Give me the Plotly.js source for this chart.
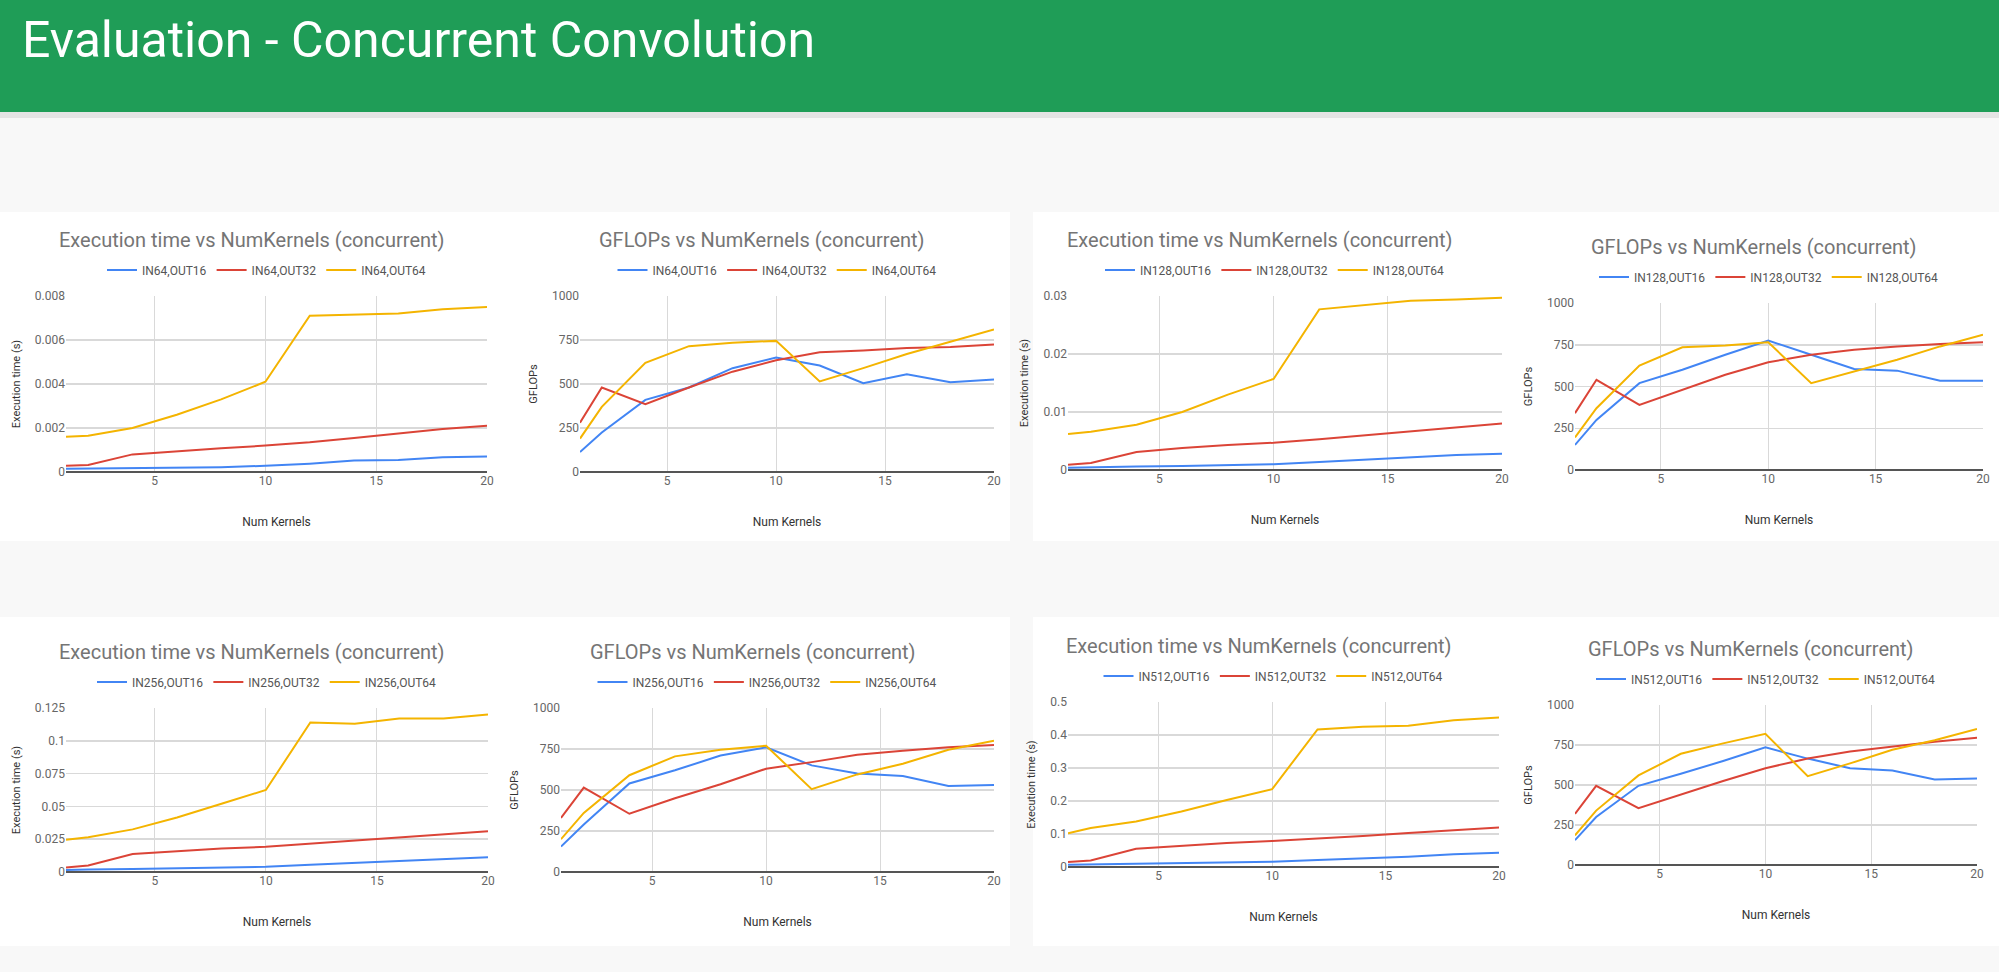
<!DOCTYPE html>
<html>
<head>
<meta charset="utf-8">
<script src="https://cdn.plot.ly/plotly-3.0.1.min.js"></script>
<style>
  html, body { margin: 0; padding: 0; background: #f8f8f8; }
  #chart { width: 1999px; height: 972px; }
</style>
</head>
<body>
<div id="chart"></div>
<script>
const W = 1999, H = 972;

// Num kernels
const numKernels = [1, 2, 4, 6, 8, 10, 12, 14, 16, 18, 20];
const inSizes = ["IN64", "IN128", "IN256", "IN512"];
const outSizes = ["OUT16", "OUT32", "OUT64"];

// execution time (s)
const timeIn64 = [
  [0.00015, 0.00016, 0.00017, 0.0002, 0.00022, 0.00028, 0.00038, 0.00052, 0.00055, 0.00067, 0.0007],
  [0.00028, 0.00032, 0.0008, 0.00095, 0.00108, 0.0012, 0.00135, 0.00155, 0.00175, 0.00195, 0.0021],
  [0.0016, 0.00165, 0.002, 0.0026, 0.0033, 0.0041, 0.0071, 0.00715, 0.0072, 0.0074, 0.0075]
];
const timeIn128 = [
  [0.0004, 0.0005, 0.0006, 0.0007, 0.0009, 0.001, 0.0014, 0.0018, 0.0021, 0.0026, 0.0028],
  [0.0009, 0.0012, 0.0031, 0.0038, 0.0043, 0.0047, 0.0053, 0.006, 0.0067, 0.0073, 0.008],
  [0.0062, 0.0066, 0.0078, 0.01, 0.013, 0.0157, 0.0277, 0.0285, 0.0292, 0.0294, 0.0297]
];
const timeIn256 = [
  [0.0015, 0.002, 0.0022, 0.0028, 0.0033, 0.004, 0.0055, 0.007, 0.0082, 0.0102, 0.0112],
  [0.0035, 0.005, 0.0137, 0.016, 0.018, 0.0192, 0.0215, 0.0237, 0.0262, 0.0285, 0.031],
  [0.0245, 0.0265, 0.0325, 0.0415, 0.052, 0.0625, 0.114, 0.113, 0.117, 0.117, 0.12]
];
const timeIn512 = [
  [0.007, 0.008, 0.009, 0.011, 0.014, 0.016, 0.021, 0.026, 0.031, 0.039, 0.043],
  [0.015, 0.02, 0.055, 0.065, 0.073, 0.079, 0.086, 0.094, 0.103, 0.112, 0.12],
  [0.102, 0.118, 0.138, 0.168, 0.203, 0.236, 0.417, 0.425, 0.428, 0.445, 0.453]
];

// GFLOPs
const gflopsIn64 = [
  [113, 225, 410, 480, 590, 650, 605, 505, 555, 510, 525],
  [280, 480, 385, 480, 570, 635, 680, 690, 705, 710, 725],
  [190, 370, 620, 715, 735, 745, 515, 590, 670, 740, 810]
];
const gflopsIn128 = [
  [150, 300, 520, 600, 690, 775, 690, 605, 595, 535, 535],
  [340, 540, 390, 480, 570, 645, 690, 720, 740, 755, 765],
  [195, 370, 625, 735, 745, 765, 520, 590, 660, 740, 810]
];
const gflopsIn256 = [
  [155, 290, 540, 620, 710, 760, 650, 600, 585, 525, 530],
  [330, 515, 355, 450, 535, 630, 670, 715, 740, 760, 775],
  [200, 360, 590, 705, 745, 770, 505, 595, 660, 745, 800]
];
const gflopsIn512 = [
  [155, 300, 495, 570, 650, 735, 665, 605, 590, 535, 540],
  [320, 495, 355, 440, 525, 605, 665, 710, 740, 770, 795],
  [185, 340, 560, 695, 760, 820, 555, 635, 720, 780, 850]
];

const timeRanges = [[0, 0.008], [0, 0.03], [0, 0.125], [0, 0.5]];
const timeTicks = [
  [0, 0.002, 0.004, 0.006, 0.008],
  [0, 0.01, 0.02, 0.03],
  [0, 0.025, 0.05, 0.075, 0.1, 0.125],
  [0, 0.1, 0.2, 0.3, 0.4, 0.5]
];
const gflopsTicks = [0, 250, 500, 750, 1000];

const colors = ["#4285f4", "#db4437", "#f4b400"];

// pixel boxes of the plot areas [x0, x1, y0(top), y1(bottom)]
const boxes = [
  [66, 487, 296, 472], [580, 994, 296, 472],
  [1068, 1502, 296, 470], [1575, 1983, 303, 470],
  [66, 488, 708, 872], [561, 994, 708, 872],
  [1068, 1499, 702, 867], [1575, 1977, 705, 865]
];
// white panels behind each pair of charts
const panels = [[0, 1010, 212, 541], [1033, 1999, 212, 541], [0, 1010, 617, 946], [1033, 1999, 617, 946]];

const px = x => x / W;
const py = y => 1 - y / H;

const timeSets = [timeIn64, timeIn128, timeIn256, timeIn512];
const gflopSets = [gflopsIn64, gflopsIn128, gflopsIn256, gflopsIn512];

const traces = [];
const layout = {
  width: W, height: H,
  margin: { l: 0, r: 0, t: 0, b: 0 },
  paper_bgcolor: "#f8f8f8",
  plot_bgcolor: "#ffffff",
  font: { family: "Roboto, sans-serif", color: "#5f5f5f" },
  showlegend: true,
  shapes: [],
  annotations: []
};

// header bar
layout.shapes.push({ type: "rect", xref: "paper", yref: "paper", x0: 0, x1: 1, y0: py(118), y1: py(112), fillcolor: "#e4e4e4", line: { width: 0 }, layer: "below" });
layout.shapes.push({ type: "rect", xref: "paper", yref: "paper", x0: 0, x1: 1, y0: py(112), y1: 1, fillcolor: "#1f9d57", line: { width: 0 }, layer: "below" });
layout.annotations.push({ xref: "paper", yref: "paper", x: px(20), y: py(40), xanchor: "left", yanchor: "middle", showarrow: false, text: "Evaluation - Concurrent Convolution", font: { size: 50, color: "#ffffff", family: "Roboto, sans-serif" } });

panels.forEach(p => {
  layout.shapes.push({ type: "rect", xref: "paper", yref: "paper", x0: px(p[0]), x1: px(p[1]), y0: py(p[3]), y1: py(p[2]), fillcolor: "#ffffff", line: { width: 0 }, layer: "below" });
});

for (let i = 0; i < 8; i++) {
  const g = Math.floor(i / 2);          // input size index
  const isTime = i % 2 === 0;
  const b = boxes[i];
  const n = i + 1;
  const xa = n === 1 ? "x" : "x" + n, ya = n === 1 ? "y" : "y" + n;
  const legName = n === 1 ? "legend" : "legend" + n;
  const data = isTime ? timeSets[g] : gflopSets[g];

  data.forEach((vals, s) => {
    traces.push({
      x: numKernels, y: vals, xaxis: xa, yaxis: ya, legend: legName,
      type: "scatter", mode: "lines", name: inSizes[g] + "," + outSizes[s],
      line: { color: colors[s], width: 2 }
    });
  });

  layout["xaxis" + (n === 1 ? "" : n)] = {
    domain: [px(b[0]), px(b[1])], anchor: ya, range: [1, 20],
    tickvals: [5, 10, 15, 20], showgrid: true, gridcolor: "#d9d9d9",
    zeroline: false, showline: false, ticks: "",
    tickfont: { size: 12, color: "#666" },
    title: { text: "Num Kernels", font: { size: 12, color: "#333" }, standoff: 30 }
  };
  layout["yaxis" + (n === 1 ? "" : n)] = {
    domain: [py(b[3]), py(b[2])], anchor: xa,
    range: isTime ? timeRanges[g] : [0, 1000],
    tickvals: isTime ? timeTicks[g] : gflopsTicks,
    showgrid: true, gridcolor: "#d9d9d9", gridwidth: 1.5,
    zeroline: true, zerolinecolor: "#555", zerolinewidth: 2,
    ticks: "", tickfont: { size: 12, color: "#666" },
    title: { text: isTime ? "Execution time (s)" : "GFLOPs", font: { size: 11, color: "#333" }, standoff: 12 }
  };
  layout[legName] = {
    orientation: "h", xref: "paper", yref: "paper",
    x: px((b[0] + b[1]) / 2 - 10), y: py(b[2] - 26), xanchor: "center", yanchor: "middle",
    font: { size: 12, color: "#555" }, bgcolor: "rgba(0,0,0,0)", itemwidth: 30, traceorder: "normal"
  };
  layout.annotations.push({
    xref: "paper", yref: "paper", x: px((b[0] + b[1]) / 2 - 25), y: py(b[2] - 56),
    xanchor: "center", yanchor: "middle", showarrow: false,
    text: isTime ? "Execution time vs NumKernels (concurrent)" : "GFLOPs vs NumKernels (concurrent)",
    font: { size: 20, color: "#757575" }
  });
}

Plotly.newPlot("chart", traces, layout, { displayModeBar: false, staticPlot: true });
</script>
</body>
</html>
